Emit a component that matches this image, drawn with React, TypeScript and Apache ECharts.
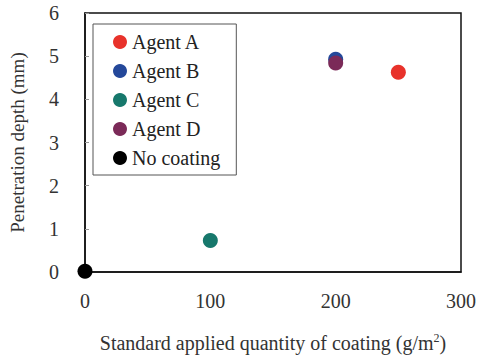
import React, { useEffect, useRef } from "react";
import * as echarts from "echarts";

// Applied quantity (g/m²) and penetration depth (mm) per coating agent
const agentNames = ["Agent A", "Agent B", "Agent C", "Agent D", "No coating"];
const agentColors = ["#e8322b", "#24489a", "#17786c", "#7b2a58", "#000000"];
const agentA: [number, number][] = [[250, 4.63]];
const agentB: [number, number][] = [[200, 4.93]];
const agentC: [number, number][] = [[100, 0.73]];
const agentD: [number, number][] = [[200, 4.84]];
const noCoating: [number, number][] = [[0, 0.02]];
const xTicks = [0, 100, 200, 300];
const yTicks = [0, 1, 2, 3, 4, 5, 6];

const FONT = "Liberation Serif";

// Force the serif face on every SVG text node the chart emits
const fontCss = `#penetration-chart text { font-family: "Liberation Serif", "Times New Roman", serif !important; }`;

export default function App() {
  const ref = useRef<HTMLDivElement>(null);

  useEffect(() => {
    if (!ref.current) return;
    const chart = echarts.init(ref.current, undefined, { renderer: "svg" });
    const seriesData = [agentA, agentB, agentC, agentD, noCoating];
    chart.setOption({
      animation: false,
      backgroundColor: "#ffffff",
      grid: {
        left: 84,
        right: 24,
        top: 13,
        bottom: 88,
        show: true,
        borderColor: "#111",
        borderWidth: 1.5,
        backgroundColor: "transparent",
      },
      legend: {
        orient: "vertical",
        left: 93,
        top: 24,
        data: agentNames,
        icon: "circle",
        itemWidth: 14,
        itemHeight: 14,
        itemGap: 9,
        padding: [8, 16, 7, 20],
        borderColor: "#555",
        borderWidth: 1,
        textStyle: { fontFamily: FONT, fontSize: 20, color: "#222" },
      },
      xAxis: {
        type: "value",
        min: xTicks[0],
        max: xTicks[xTicks.length - 1],
        interval: 100,
        name: "Standard applied quantity of coating (g/m{sup|2})",
        nameLocation: "middle",
        nameGap: 60,
        nameTextStyle: {
          fontFamily: FONT,
          fontSize: 20,
          color: "#333",
          rich: {
            sup: { fontFamily: FONT, fontSize: 12, color: "#333", verticalAlign: "top", padding: [0, 0, 10, 0] },
          },
        },
        axisLine: { show: true, lineStyle: { color: "#111", width: 1.5 } },
        axisTick: { show: false },
        splitLine: { show: false },
        axisLabel: { fontFamily: FONT, fontSize: 20, color: "#333", margin: 19 },
      },
      yAxis: {
        type: "value",
        min: yTicks[0],
        max: yTicks[yTicks.length - 1],
        interval: 1,
        name: "Penetration depth (mm)",
        nameLocation: "middle",
        nameGap: 58,
        nameTextStyle: { fontFamily: FONT, fontSize: 19, color: "#333" },
        axisLine: { show: true, lineStyle: { color: "#111", width: 1.5 } },
        axisTick: { show: true, inside: true, length: 4, lineStyle: { color: "#999" } },
        splitLine: { show: false },
        axisLabel: { fontFamily: FONT, fontSize: 20, color: "#333", margin: 26 },
      },
      series: agentNames.map((name, i) => ({
        name,
        type: "scatter",
        data: seriesData[i],
        symbol: "circle",
        symbolSize: 15,
        clip: false,
        itemStyle: { color: agentColors[i], opacity: 1 },
        z: i === 3 ? 4 : 3,
      })),
    });
    return () => chart.dispose();
  }, []);

  return (
    <>
      <style>{fontCss}</style>
      <div
        id="penetration-chart"
        ref={ref}
        style={{ position: "absolute", left: 0, top: 0, width: 485, height: 360 }}
      />
    </>
  );
}
